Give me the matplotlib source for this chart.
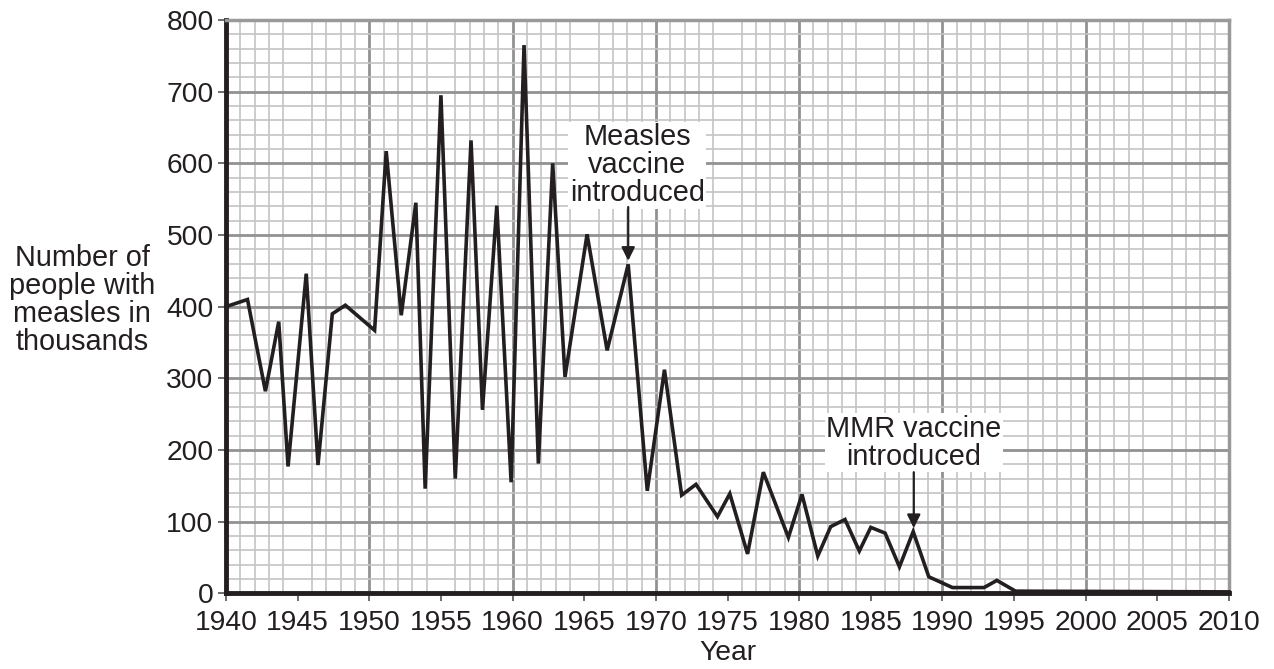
import matplotlib
matplotlib.use("Agg")
import matplotlib.pyplot as plt
import numpy as np
from matplotlib.ticker import MultipleLocator

plt.rcParams['font.family'] = ['Liberation Sans', 'DejaVu Sans']

years = [1940.0, 1941.5, 1942.75, 1943.68, 1944.33, 1945.6, 1946.42, 1947.42, 1948.33,
         1950.37, 1951.18, 1952.23, 1953.25, 1953.9, 1955.0, 1956.0, 1957.1, 1957.9,
         1958.9, 1959.9, 1960.8, 1961.8, 1962.8, 1963.66, 1965.2, 1966.6, 1968.07,
         1969.4, 1970.6, 1971.8, 1972.8, 1974.3, 1975.16, 1976.4, 1977.5, 1979.25,
         1980.2, 1981.3, 1982.2, 1983.2, 1984.2, 1985.0, 1986.0, 1987.0, 1987.96,
         1989.05, 1990.7, 1992.9, 1993.8, 1995.1, 2010.0]
cases = [400, 410, 282, 379, 177, 446, 179, 390, 402,
         367, 617, 388, 545, 146, 695, 160, 632, 256,
         541, 155, 765, 181, 600, 302, 501, 339, 459,
         143, 312, 137, 152, 107, 139, 55, 169, 78,
         138, 52, 93, 103, 59, 92, 84, 37, 86,
         23, 8, 8, 18, 3, 2]

xticks = list(range(1940, 2011, 5))
yticks = list(range(0, 801, 100))

ink = '#231f20'
FS = 20.3
TFS = 20.8

fig = plt.figure(figsize=(12.74, 6.69), dpi=100)
ax = fig.add_axes([226/1274, (669-593.3)/669, (1229-226)/1274, (593.3-20)/669])

ax.set_xlim(1940, 2010)
ax.set_ylim(0, 800)

ax.xaxis.set_minor_locator(MultipleLocator(1))
ax.yaxis.set_minor_locator(MultipleLocator(20))
ax.grid(which='minor', color='#c4c4c4', linewidth=1.2)
ax.set_axisbelow(True)

ax.set_xticks(xticks)
ax.set_xticklabels([str(t) for t in xticks])
ax.set_yticks(yticks)
ax.set_yticklabels([str(t) for t in yticks])
ax.tick_params(which='major', length=6, width=1.2, color='#555555', pad=3,
               labelsize=FS, labelcolor=ink)
ax.tick_params(axis='x', which='major', pad=6)
ax.tick_params(which='minor', length=0)

# major grid: decades on x, hundreds on y
ax.grid(True, axis='y', which='major', color='#929292', linewidth=2.0)
ax.grid(False, axis='x', which='major')
for yr in range(1950, 2010, 10):
    ax.axvline(yr, color='#929292', linewidth=2.0, zorder=0.5)

for s in ['top', 'right']:
    ax.spines[s].set_color('#9a9a9a')
    ax.spines[s].set_linewidth(2.5)
for s in ['left', 'bottom']:
    ax.spines[s].set_color(ink)
    ax.spines[s].set_linewidth(3.5)

ax.plot(years, cases, color=ink, linewidth=2.6, solid_joinstyle='miter', zorder=3,
        clip_on=False)

ax.set_xlabel('Year', fontsize=FS, color=ink, labelpad=3)
fig.text(82/1274, 1 - 300/669, 'Number of\npeople with\nmeasles in\nthousands',
         ha='center', va='center', fontsize=TFS, color=ink, linespacing=1.0)

bbox = dict(boxstyle='square,pad=0.05', facecolor='white', edgecolor='none')
ax.text(1968.7, 597, 'Measles\nvaccine\nintroduced', ha='center', va='center',
        fontsize=TFS, color=ink, linespacing=1.0, bbox=bbox, zorder=4)
ax.annotate('', xy=(1968.07, 464), xytext=(1968.07, 539),
            arrowprops=dict(arrowstyle='-|>', color=ink, lw=1.6, mutation_scale=20,
                            shrinkA=0, shrinkB=0), zorder=4)

ax.text(1988.0, 210, 'MMR vaccine\nintroduced', ha='center', va='center',
        fontsize=TFS, color=ink, linespacing=1.0, bbox=bbox, zorder=4)
ax.annotate('', xy=(1988.0, 91), xytext=(1988.0, 169),
            arrowprops=dict(arrowstyle='-|>', color=ink, lw=1.6, mutation_scale=20,
                            shrinkA=0, shrinkB=0), zorder=4)

fig.savefig('out.png', dpi=100)
